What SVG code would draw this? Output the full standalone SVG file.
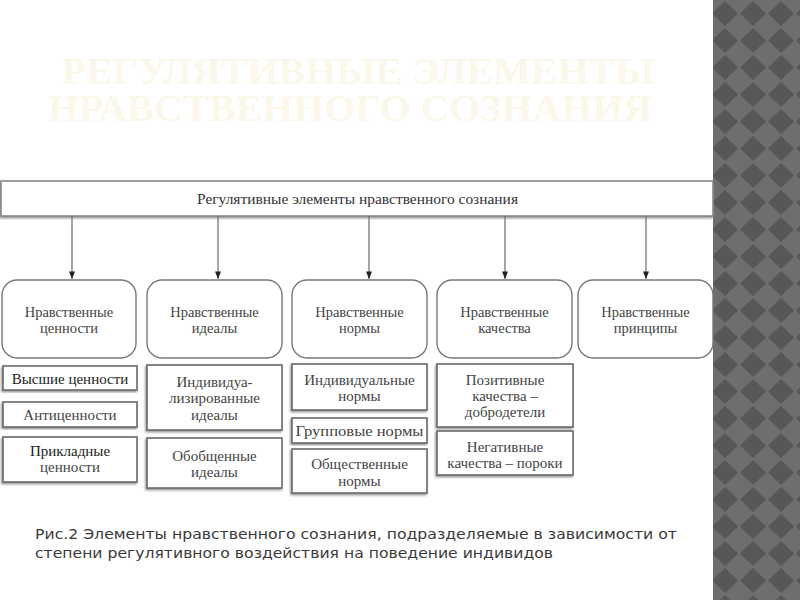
<svg xmlns="http://www.w3.org/2000/svg" width="800" height="600" viewBox="0 0 800 600">
<defs>
<pattern id="diam" x="711" y="0" width="28" height="27" patternUnits="userSpaceOnUse">
<rect width="28" height="27" fill="#6e6e6e"/>
<polygon points="14,1 27,13.5 14,26 1,13.5" fill="#575757"/>
</pattern>
<marker id="ad" viewBox="0 0 8 10" refX="4" refY="10" markerWidth="6" markerHeight="8" markerUnits="userSpaceOnUse" orient="0">
<path d="M0,0 L8,0 L4,10 Z" fill="#222"/>
</marker>
<filter id="sh" x="-5%" y="-5%" width="110%" height="115%">
<feDropShadow dx="-1" dy="1.5" stdDeviation="0.8" flood-color="#777" flood-opacity="0.8"/>
</filter>
</defs>
<style>
.t{font-family:"Liberation Serif","Times New Roman",serif;fill:#444;text-anchor:middle}
.tb{font-size:14.4px;fill:#333}
.tr{font-size:14.5px}
.ts{font-size:15px}
.dk{fill:#222}
.rb{fill:#fff;stroke:#777;stroke-width:1.4}
.sb{fill:#fff;stroke:#6a6a6a;stroke-width:1.6;filter:url(#sh)}
.con{stroke:#6a6a6a;stroke-width:1.2;fill:none;marker-end:url(#ad)}
.title{font-family:"Liberation Serif","Times New Roman",serif;font-weight:bold;font-size:37px;fill:#fbf7ea;text-anchor:middle}
.cap{font-family:"DejaVu Sans","Liberation Sans",sans-serif;font-size:14px;fill:#3a3a3a}
</style>
<rect width="800" height="600" fill="#fff"/>
<rect x="713" y="0" width="87" height="600" fill="url(#diam)"/>
<g id="title">
<text class="title" x="358" y="84" textLength="593" lengthAdjust="spacingAndGlyphs">РЕГУЛЯТИВНЫЕ ЭЛЕМЕНТЫ</text>
<text class="title" x="350" y="121" textLength="604" lengthAdjust="spacingAndGlyphs">НРАВСТВЕННОГО СОЗНАНИЯ</text>
</g>
<g id="root">
<rect x="1" y="181" width="712" height="35" fill="#fff" stroke="#888" stroke-width="1.6" filter="url(#sh)"/>
<text class="t tb" x="357.5" y="204" textLength="321" lengthAdjust="spacingAndGlyphs">Регулятивные элементы нравственного сознания</text>
</g>
<g id="connectors">
<line class="con" x1="72" y1="216" x2="72" y2="279"/>
<line class="con" x1="218" y1="216" x2="218" y2="279"/>
<line class="con" x1="369" y1="216" x2="369" y2="279"/>
<line class="con" x1="505" y1="216" x2="505" y2="279"/>
<line class="con" x1="646" y1="216" x2="646" y2="279"/>
</g>
<g id="values">
<rect class="rb" x="2" y="280" width="134" height="78" rx="15"/>
<text class="t tr" x="69" y="317">Нравственные</text>
<text class="t tr" x="69" y="333">ценности</text>
</g>
<g id="ideals">
<rect class="rb" x="147" y="280" width="135" height="78" rx="15"/>
<text class="t tr" x="214.5" y="317">Нравственные</text>
<text class="t tr" x="214.5" y="333">идеалы</text>
</g>
<g id="norms">
<rect class="rb" x="292" y="280" width="135" height="78" rx="15"/>
<text class="t tr" x="359.5" y="317">Нравственные</text>
<text class="t tr" x="359.5" y="333">нормы</text>
</g>
<g id="qualities">
<rect class="rb" x="437" y="280" width="135" height="78" rx="15"/>
<text class="t tr" x="504.5" y="317">Нравственные</text>
<text class="t tr" x="504.5" y="333">качества</text>
</g>
<g id="principles">
<rect class="rb" x="578" y="280" width="135" height="78" rx="15"/>
<text class="t tr" x="645.5" y="317">Нравственные</text>
<text class="t tr" x="645.5" y="333">принципы</text>
</g>
<g id="higher-values">
<rect class="sb" x="3" y="366" width="134" height="24"/>
<text class="t ts dk" x="70" y="384">Высшие ценности</text>
</g>
<g id="anti-values">
<rect class="sb" x="3" y="402" width="134" height="25"/>
<text class="t ts" x="70" y="420">Антиценности</text>
</g>
<g id="applied-values">
<rect class="sb" x="3" y="437" width="134" height="45"/>
<text class="t ts dk" x="70" y="456">Прикладные</text>
<text class="t ts" x="70" y="472">ценности</text>
</g>
<g id="individual-ideals">
<rect class="sb" x="147" y="365" width="135" height="65"/>
<text class="t ts" x="214.5" y="387">Индивидуа-</text>
<text class="t ts" x="214.5" y="403">лизированные</text>
<text class="t ts" x="214.5" y="420">идеалы</text>
</g>
<g id="general-ideals">
<rect class="sb" x="147" y="438" width="135" height="50"/>
<text class="t ts" x="214.5" y="461">Обобщенные</text>
<text class="t ts" x="214.5" y="477">идеалы</text>
</g>
<g id="individual-norms">
<rect class="sb" x="292" y="364" width="135" height="46"/>
<text class="t ts" x="359.5" y="385">Индивидуальные</text>
<text class="t ts" x="359.5" y="401">нормы</text>
</g>
<g id="group-norms">
<rect class="sb" x="292" y="418" width="135" height="25"/>
<text class="t ts" x="359.5" y="436" textLength="128" lengthAdjust="spacingAndGlyphs">Групповые нормы</text>
</g>
<g id="social-norms">
<rect class="sb" x="292" y="449" width="135" height="44"/>
<text class="t ts" x="359.5" y="469">Общественные</text>
<text class="t ts" x="359.5" y="486">нормы</text>
</g>
<g id="virtues">
<rect class="sb" x="437" y="364" width="136" height="63"/>
<text class="t ts" x="505" y="385">Позитивные</text>
<text class="t ts" x="505" y="401">качества –</text>
<text class="t ts" x="505" y="417">добродетели</text>
</g>
<g id="vices">
<rect class="sb" x="437" y="431" width="136" height="44"/>
<text class="t ts" x="505" y="452">Негативные</text>
<text class="t ts" x="505" y="468">качества – пороки</text>
</g>
<g id="caption">
<text class="cap" x="35" y="539" textLength="642" lengthAdjust="spacingAndGlyphs">Рис.2 Элементы нравственного сознания, подразделяемые в зависимости от</text>
<text class="cap" x="35" y="558" textLength="518" lengthAdjust="spacingAndGlyphs">степени регулятивного воздействия на поведение индивидов</text>
</g>
</svg>
